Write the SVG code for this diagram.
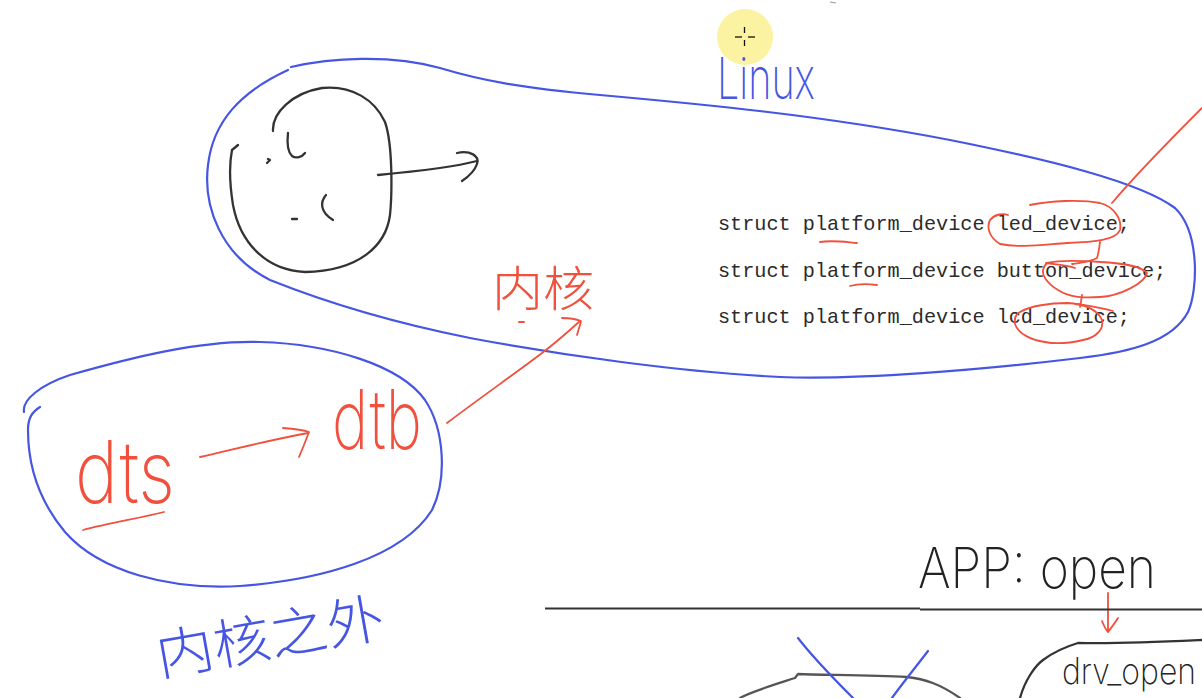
<svg xmlns="http://www.w3.org/2000/svg" width="1202" height="698" viewBox="0 0 1202 698">
<style>
.blue{fill:none;stroke:#4656e2;stroke-width:2.2;stroke-linecap:round;stroke-linejoin:round}
.red{fill:none;stroke:#f0503c;stroke-width:1.8;stroke-linecap:round;stroke-linejoin:round}
.ink{fill:none;stroke:#333;stroke-width:2.3;stroke-linecap:round;stroke-linejoin:round}
.code{font-family:"Liberation Mono","DejaVu Sans Mono",monospace;font-size:20.2px;fill:#2b2b2b}
.hand{font-family:Inter,"Liberation Sans",sans-serif;font-weight:200}
.cjk{font-family:"Noto Sans CJK SC",sans-serif;font-weight:300}
</style>
<rect width="1202" height="698" fill="#ffffff"/>

<!-- cursor highlight -->
<g id="cursor">
  <circle cx="745" cy="37" r="28" fill="#fcf3a2"/>
  <g stroke="#111" stroke-width="1.3">
    <line x1="735" y1="37" x2="742" y2="37"/><line x1="748" y1="37" x2="755" y2="37"/>
    <line x1="744.5" y1="27" x2="744.5" y2="33"/><line x1="744.5" y1="40" x2="744.5" y2="46"/>
  </g>
  <line x1="830" y1="2" x2="836" y2="3" stroke="#999" stroke-width="1"/>
</g>

<!-- Linux region -->
<g id="linux">
  <path class="blue" d="M291,67 C330,58 390,54 440,68 C480,80 520,88 600,95 C700,104 820,115 950,140 C1050,160 1140,182 1175,208 C1200,232 1198,290 1188,312 C1172,342 1130,352 1080,358 C980,370 860,380 780,377 C680,372 560,355 470,338 C390,322 320,300 270,280 C220,255 203,205 208,165 C213,122 240,92 288,70"/>
  <text class="hand" x="717" y="99" font-size="58" fill="#4656e2" textLength="98" lengthAdjust="spacingAndGlyphs">Linux</text>
</g>

<!-- black sketch with arrow -->
<g id="sketch">
  <path class="ink" d="M273,131 C272,113 292,93 322,88 C352,85 375,100 385,122 C393,145 392,195 390,215 C386,245 360,271 305,272 C265,270 240,242 233,205 C229,180 230,160 232,150 L238,145"/>
  <path class="ink" d="M288,133 C287,142 288,152 292,156 C296,159 302,157 305,153"/>
  <path class="ink" d="M268,159 L270,160 L267,163"/>
  <path class="ink" d="M326,195 C320,202 320,212 333,220"/>
  <path class="ink" d="M292,219 L297,219"/>
  <path class="ink" d="M378,175 C410,172 450,168 477,161"/>
  <path class="ink" d="M457,153 C470,150 480,156 477,164 C475,170 468,177 462,181"/>
</g>

<!-- code lines -->
<g id="code">
  <text class="code" x="718" y="230">struct platform_device led_device;</text>
  <text class="code" x="718" y="277">struct platform_device button_device;</text>
  <text class="code" x="718" y="323">struct platform_device lcd_device;</text>
</g>

<!-- red annotations on code -->
<g id="annotations">
  <path class="red" d="M820,242 C832,240 845,242 857,243"/>
  <path class="red" d="M850,286 C860,283 870,284 877,285"/>
  <path class="red" d="M1030,205 C1050,201 1080,199 1100,203 C1115,207 1122,220 1120,230 C1116,240 1095,242 1067,243 C1040,245 1020,248 1000,244 C990,238 986,228 990,220 C995,214 1003,213 1008,215"/>
  <path class="red" d="M1112,203 C1140,170 1170,140 1202,108"/>
  <path class="red" d="M1100,242 C1099,250 1098,255 1097,258 C1090,262 1080,263 1072,264"/>
  <path class="red" d="M1047,263 C1060,260 1085,261 1100,262 C1120,263 1140,265 1147,273 C1145,283 1120,296 1100,297 C1085,298 1070,298 1058,290 C1048,284 1042,276 1043,270 C1044,266 1046,264 1047,263"/>
  <path class="red" d="M1046,263 C1060,265 1070,266 1075,268"/>
  <path class="red" d="M1082,295 C1081,300 1081,304 1080,307 M1078,304 C1090,306 1103,308 1113,311"/>
  <path class="red" d="M1020,312 C1030,306 1050,303 1067,303 C1085,304 1098,310 1102,320 C1104,330 1095,338 1083,340 C1070,343 1055,344 1045,342 C1030,340 1018,333 1015,324 C1014,318 1016,314 1020,312"/>
</g>

<!-- dts -> dtb region -->
<g id="dts-region">
  <path class="blue" d="M24,412 C22,400 40,385 70,375 C130,358 200,340 260,342 C330,344 400,365 425,400 C445,430 447,480 432,510 C402,558 320,580 240,586 C170,590 100,572 65,532 C35,496 28,460 28,430 C28,418 32,412 40,407"/>
  <text class="hand" x="75" y="503" font-size="86" fill="#f0503c" textLength="100" lengthAdjust="spacingAndGlyphs">dts</text>
  <path class="red" d="M83,530 C110,523 140,518 164,512"/>
  <path class="red" d="M200,457 C235,449 270,440 308,433"/>
  <path class="red" d="M283,428 C295,429 303,430 309,432 C306,440 302,450 299,457"/>
  <text class="hand" x="332" y="449" font-size="82" fill="#f0503c" textLength="90" lengthAdjust="spacingAndGlyphs">dtb</text>
  <text class="cjk" x="160" y="676" font-size="54" fill="#4656e2" textLength="230" lengthAdjust="spacingAndGlyphs" transform="rotate(-10 160 676)">内核之外</text>
</g>

<!-- dtb to kernel -->
<g id="kernel-label">
  <text class="cjk" x="492" y="306" font-size="48" fill="#f0503c" textLength="102" lengthAdjust="spacingAndGlyphs">内核</text>
  <path class="red" d="M519,322 L524,322"/>
</g>

<g id="connectors">
  <path class="red" d="M447,423 C480,398 520,370 546,350 C560,339 570,330 580,321"/>
  <path class="red" d="M562,318 C570,318 576,319 581,321 C580,326 578,331 577,335"/>
  <path class="red" d="M1108,593 C1108,606 1108,620 1108,632 M1102,621 C1104,626 1106,630 1108,632 C1111,628 1115,623 1118,618"/>
</g>

<!-- user / kernel boundary -->
<g id="app-open">
  <path d="M545,608.5 L920,608.5 M920,609.5 L1202,609.5" stroke="#333" stroke-width="2" fill="none"/>
  <text class="hand" x="918" y="588" font-size="56" fill="#222" textLength="238" lengthAdjust="spacingAndGlyphs">APP: open</text>
</g>

<g id="drv-open">
  <path class="ink" d="M1020,698 C1025,680 1035,666 1043,660 C1055,651 1068,646 1078,643 C1120,644 1160,642 1202,640"/>
  <text class="hand" x="1062" y="684" font-size="36" fill="#222" textLength="134" lengthAdjust="spacingAndGlyphs">drv_open</text>
</g>

<g id="bottom-shape">
  <path class="ink" style="stroke:#555" d="M740,698 C750,692 770,686 795,678 L798,674 C820,675 870,675 907,677 C925,679 940,684 960,698"/>
  <path class="blue" d="M798,638 C815,660 835,680 853,698"/>
  <path class="blue" d="M928,651 C915,668 902,684 892,698"/>
</g>
</svg>
